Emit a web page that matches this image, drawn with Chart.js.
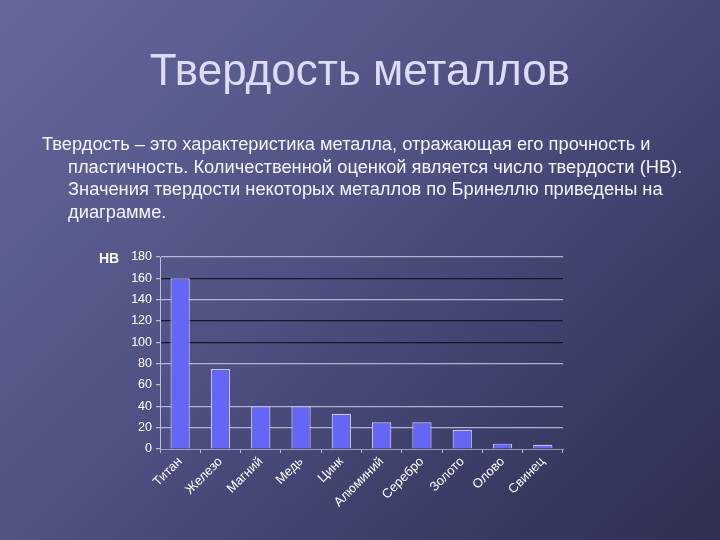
<!DOCTYPE html>
<html><head><meta charset="utf-8">
<script src="https://cdn.jsdelivr.net/npm/chart.js@4"></script>
<style>
html,body{margin:0;padding:0;}
body{width:720px;height:540px;overflow:hidden;position:relative;
background:linear-gradient(135deg,#66689b 0%,#4e5182 45%,#3a3d65 75%,#2d3052 100%);
font-family:"Liberation Sans",Arial,sans-serif;}
#title{position:absolute;left:0;top:45px;width:720px;text-align:center;font-size:44px;color:#dcdcf4;line-height:50px;}
#para{position:absolute;left:42px;top:133px;width:678px;font-size:18.3px;color:#f4f4ff;line-height:22.7px;white-space:nowrap;}
#para div.i{padding-left:26px;}
#wrap{position:absolute;left:0;top:0;width:720px;height:540px;}
</style></head><body>
<div id="wrap"><canvas id="c" width="720" height="540"></canvas></div>
<div id="title">Твердость металлов</div>
<div id="para">
<div>Твердость – это характеристика металла, отражающая его прочность и</div>
<div class="i">пластичность. Количественной оценкой является число твердости (HB).</div>
<div class="i">Значения твердости некоторых металлов по Бринеллю приведены на</div>
<div class="i">диаграмме.</div>
</div>
<script>
const categories = ["Титан","Железо","Магний","Медь","Цинк","Алюминий","Серебро","Золото","Олово","Свинец"];
const hardness = [160, 75, 40, 40, 33, 25, 25, 18, 5, 4];
const yTicks = [0,20,40,60,80,100,120,140,160,180];
const unitLabel = "HB";

const gridColors = {0:"rgba(0,0,0,0)",20:"rgba(215,215,240,0.75)",40:"rgba(215,215,240,0.75)",60:"rgba(0,0,0,0)",80:"rgba(215,215,240,0.75)",100:"#15162a",120:"#15162a",140:"rgba(215,215,240,0.75)",160:"#15162a",180:"rgba(215,215,240,0.75)"};

const hbPlugin = {
  id:'hb',
  afterDraw(chart){
    const ctx = chart.ctx, y = chart.scales.y;
    ctx.save();
    ctx.font = "bold 14px 'Liberation Sans', Arial, sans-serif";
    ctx.fillStyle = "#ffffff";
    ctx.textAlign = "left"; ctx.textBaseline = "middle";
    ctx.fillText(unitLabel, 99, y.getPixelForValue(yTicks[yTicks.length-1]) + 2);
    ctx.restore();
  }
};

new Chart(document.getElementById('c'), {
  type:'bar',
  data:{labels:categories,datasets:[{data:hardness,backgroundColor:"#6666f6",borderColor:"#c4c4f0",borderWidth:1.2,categoryPercentage:1,barPercentage:0.48}]},
  options:{
    responsive:false,animation:false,
    layout:{padding:{left:0,right:157,top:257,bottom:0}},
    plugins:{legend:{display:false},tooltip:{enabled:false}},
    scales:{
      y:{min:0,max:180,
        afterFit(s){s.width=160;},
        afterBuildTicks(s){s.ticks = yTicks.map(v=>({value:v}));},
        ticks:{color:"#ffffff",font:{family:"'Liberation Sans', Arial, sans-serif",size:12.5},padding:4},
        grid:{color:(c)=>gridColors[c.tick.value]||"rgba(0,0,0,0)",lineWidth:1.2,tickLength:4,tickColor:"rgba(215,215,240,0.8)"},
        border:{color:"rgba(215,215,240,0.8)",width:1}
      },
      x:{
        afterFit(s){s.height=91;},
        ticks:{color:"#ffffff",font:{family:"'Liberation Sans', Arial, sans-serif",size:13},maxRotation:45,minRotation:45,padding:1},
        grid:{offset:true,drawOnChartArea:false,tickLength:4,color:"rgba(215,215,240,0.8)"},
        border:{color:"rgba(215,215,240,0.6)",width:1}
      }
    }
  },
  plugins:[hbPlugin]
});
</script>
</body></html>
